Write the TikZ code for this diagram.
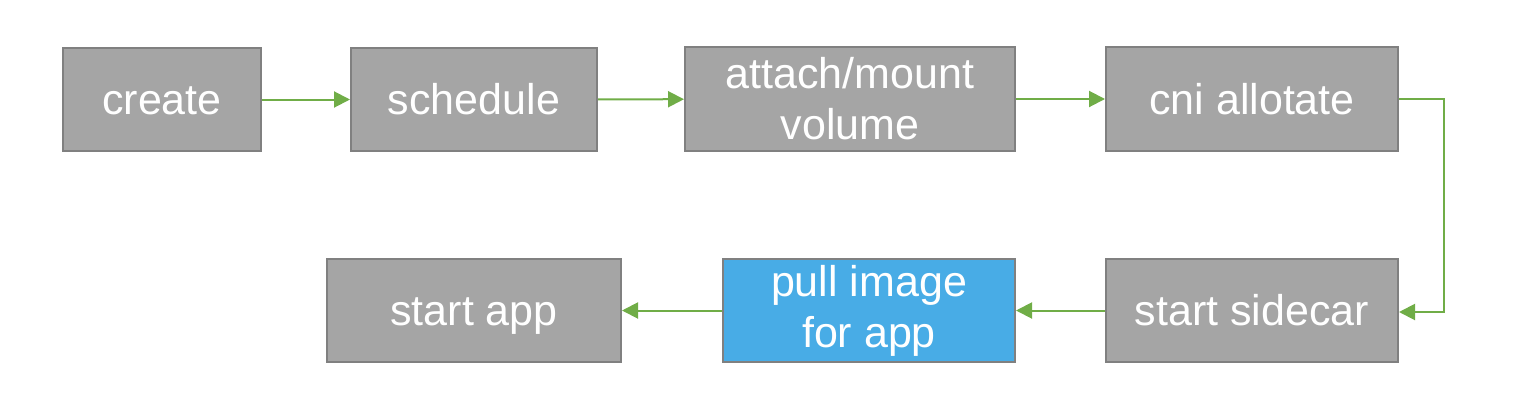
\documentclass[tikz,border=0pt]{standalone}
\usepackage{fontspec}
\setmainfont{Liberation Sans}
\usetikzlibrary{arrows.meta}
\definecolor{boxgray}{HTML}{A5A5A5}
\definecolor{boxedge}{HTML}{808080}
\definecolor{boxblue}{HTML}{48ACE6}
\definecolor{arrgreen}{HTML}{70AD47}
\tikzset{
  box/.style={draw=boxedge, line width=1pt, fill=boxgray, text=white, inner sep=0pt,
    align=center, font=\fontsize{21.5}{25.5}\selectfont},
  oneline/.style={text height=17pt, text depth=2pt},
  bluebox/.style={box, fill=boxblue},
  flow/.style={draw=arrgreen, line width=1pt, -{Triangle[length=8pt,width=8pt]}},
}
\begin{document}
\begin{tikzpicture}[x=0.5pt,y=-0.5pt]
\useasboundingbox (0,0) rectangle (1514,412);
\node[box, oneline, minimum width=99pt, minimum height=51.5pt] (create) at (162,99.5) {create};
\node[box, oneline, minimum width=123pt, minimum height=51.5pt] (schedule) at (474,99.5) {schedule};
\node[box, minimum width=165pt, minimum height=52pt] (attach) at (850,99) {attach/mount\\volume};
\node[box, oneline, minimum width=146pt, minimum height=52pt] (cni) at (1252,99) {cni allotate};
\node[box, oneline, minimum width=146pt, minimum height=51.5pt] (sidecar) at (1252,310.5) {start sidecar};
\node[bluebox, minimum width=146pt, minimum height=51.5pt] (pull) at (869,310.5) {pull image\\for app};
\node[box, oneline, minimum width=147pt, minimum height=51.5pt] (app) at (474,310.5) {start app};
\coordinate (c1) at (1444,99);
\coordinate (c2) at (1444,312);
\draw[flow] (create) -- (schedule);
\draw[flow] (schedule) -- (attach);
\draw[flow] (attach) -- (cni);
\draw[flow] (cni.east) -- (c1) -- (c2) -- (sidecar.east |- c2);
\draw[flow] (sidecar) -- (pull);
\draw[flow] (pull) -- (app);
\end{tikzpicture}
\end{document}
